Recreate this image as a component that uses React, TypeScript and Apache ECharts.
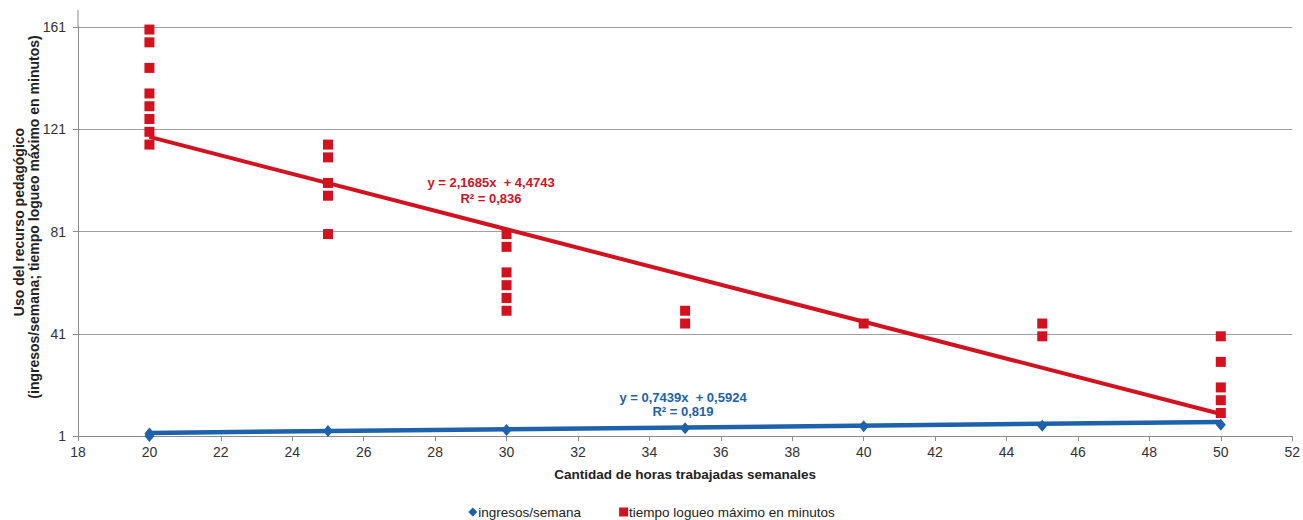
import React, { useEffect, useRef } from 'react';
import * as echarts from 'echarts';

// Data
const seriesNames = ['ingresos/semana', 'tiempo logueo máximo en minutos'];

const visitsPerWeek: [number, number][] = [
  [20, 1], [20, 2], [25, 3], [30, 3.3], [35, 4], [40, 4.8], [45, 5], [50, 5.4],
];

const maxLoginMinutes: [number, number][] = [
  [20, 160], [20, 155], [20, 145], [20, 135], [20, 130], [20, 125], [20, 120], [20, 115],
  [25, 115], [25, 110], [25, 100], [25, 95], [25, 80],
  [30, 80], [30, 75], [30, 65], [30, 60], [30, 55], [30, 50],
  [35, 50], [35, 45],
  [40, 45],
  [45, 45], [45, 40],
  [50, 40], [50, 30], [50, 20], [50, 15], [50, 10],
];

const visitsTrend: [number, number][] = [[20, 2.2], [50, 6.5]];
const loginTrend: [number, number][] = [[20, 118], [50, 9.6]];

const visitsEquation = ['y = 0,7439x  + 0,5924', 'R² = 0,819'];
const loginEquation = ['y = 2,1685x  + 4,4743', 'R² = 0,836'];

const xAxisTitle = 'Cantidad de horas trabajadas semanales';
const yAxisTitle = ['Uso del recurso pedagógico', '(ingresos/semana; tiempo logueo máximo en minutos)'];

const RED = '#d3111f';
const BLUE = '#1d62aa';
const FONT = '"Liberation Sans", Arial, sans-serif';
const NARROW = '"Liberation Sans Narrow", "Arial Narrow", "Liberation Sans", sans-serif';

export default function App() {
  const ref = useRef<HTMLDivElement>(null);

  useEffect(() => {
    document.body.style.margin = '0';
    const chart = echarts.init(ref.current!, undefined, { renderer: 'svg' });
    const eqStyle = (text: string, color: string) => ({
      text, fill: color, font: `bold 13px ${FONT}`, textAlign: 'center', textVerticalAlign: 'middle',
    });
    chart.setOption({
      animation: false,
      backgroundColor: '#ffffff',
      textStyle: { fontFamily: FONT },
      grid: { left: 78, right: 10, top: 27, bottom: 84 },
      xAxis: {
        type: 'value',
        min: 18,
        max: 52,
        interval: 2,
        name: xAxisTitle,
        nameLocation: 'middle',
        nameGap: 31,
        nameTextStyle: { fontFamily: FONT, fontSize: 13.5, fontWeight: 'bold', color: '#222' },
        axisLine: { show: true, lineStyle: { color: '#8c8c8c', width: 1 } },
        axisTick: { show: true, length: 5, lineStyle: { color: '#8c8c8c' } },
        axisLabel: { color: '#333', fontSize: 14, margin: 9, fontFamily: NARROW },
        splitLine: { show: false },
      },
      yAxis: {
        type: 'value',
        min: 1,
        max: 161,
        interval: 40,
        axisLine: { show: true, lineStyle: { color: '#8c8c8c', width: 1 } },
        axisTick: { show: true, length: 5, lineStyle: { color: '#8c8c8c' } },
        axisLabel: { color: '#333', fontSize: 14, margin: 12, fontFamily: NARROW },
        splitLine: { show: true, lineStyle: { color: '#a0a0a0', width: 1 } },
      },
      legend: {
        top: 505,
        left: 'center',
        padding: 0,
        itemGap: 38,
        itemWidth: 9,
        itemHeight: 9,
        textStyle: { fontFamily: FONT, fontSize: 13.5, color: '#222', padding: [0, 0, 0, -4] },
        data: [
          { name: seriesNames[0], icon: 'diamond', itemStyle: { color: BLUE } },
          { name: seriesNames[1], icon: 'rect', itemStyle: { color: RED } },
        ],
      },
      graphic: [
        { type: 'line', shape: { x1: 78, y1: 10, x2: 78, y2: 27 }, style: { stroke: '#8c8c8c', lineWidth: 1 } },
        {
          type: 'text', x: 18.5, y: 222, rotation: Math.PI / 2,
          style: { text: yAxisTitle[0], fill: '#222', font: `bold 14px ${FONT}`, textAlign: 'center', textVerticalAlign: 'middle' },
        },
        {
          type: 'text', x: 33.5, y: 217, rotation: Math.PI / 2,
          style: { text: yAxisTitle[1], fill: '#222', font: `bold 14px ${FONT}`, textAlign: 'center', textVerticalAlign: 'middle' },
        },
        { type: 'text', x: 491, y: 182, style: eqStyle(loginEquation[0], RED) },
        { type: 'text', x: 491, y: 198, style: eqStyle(loginEquation[1], RED) },
        { type: 'text', x: 683, y: 397, style: eqStyle(visitsEquation[0], BLUE) },
        { type: 'text', x: 683, y: 411, style: eqStyle(visitsEquation[1], BLUE) },
      ],
      series: [
        {
          name: seriesNames[0],
          type: 'scatter',
          symbol: 'diamond',
          symbolSize: [10, 12],
          itemStyle: { color: BLUE, opacity: 1 },
          data: visitsPerWeek,
          z: 3,
        },
        {
          name: seriesNames[1],
          type: 'scatter',
          symbol: 'rect',
          symbolSize: 10,
          itemStyle: { color: RED, opacity: 1 },
          data: maxLoginMinutes,
          z: 3,
        },
        {
          name: 'trend-visits',
          type: 'line',
          data: visitsTrend,
          showSymbol: false,
          lineStyle: { color: BLUE, width: 4.5 },
          itemStyle: { color: BLUE },
          silent: true,
          z: 2,
        },
        {
          name: 'trend-login',
          type: 'line',
          data: loginTrend,
          showSymbol: false,
          lineStyle: { color: RED, width: 4 },
          itemStyle: { color: RED },
          silent: true,
          z: 4,
        },
      ],
    });
    return () => chart.dispose();
  }, []);

  return <div ref={ref} style={{ position: 'absolute', left: 0, top: 0, width: 1303, height: 520 }} />;
}
